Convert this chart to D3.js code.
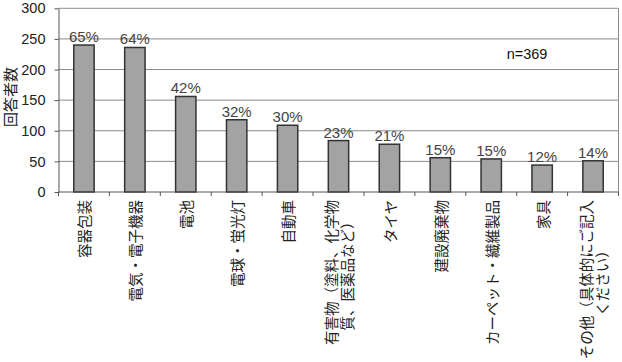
<!DOCTYPE html>
<html>
<head>
<meta charset="utf-8">
<script src="https://cdn.jsdelivr.net/npm/d3@7"></script>
<style>
  html, body { margin: 0; padding: 0; background: #fff; }
  svg { display: block; }
</style>
</head>
<body>
<svg id="chart" width="622" height="362"></svg>
<script>
const categories = [
  ["容器包装"],
  ["電気・電子機器"],
  ["電池"],
  ["電球・蛍光灯"],
  ["自動車"],
  ["有害物（塗料、化学物", "質、医薬品など）"],
  ["タイヤ"],
  ["建設廃棄物"],
  ["カーペット・繊維製品"],
  ["家具"],
  ["その他（具体的にご記入", "ください）"]
];
const values = [240, 236, 156, 118, 109, 84, 78, 56, 54, 44, 51];
const percentLabels = ["65%", "64%", "42%", "32%", "30%", "23%", "21%", "15%", "15%", "12%", "14%"];
const yTicks = [0, 50, 100, 150, 200, 250, 300];
const yTitle = "回答者数";
const note = "n=369";

const svg = d3.select("#chart");
const plotLeft = 58.5, plotRight = 618.5, plotTop = 8.3, plotBottom = 192;
const ids = categories.map((d, i) => i);

const x = d3.scaleBand().domain(ids).range([plotLeft, plotRight]).paddingInner(0.6).paddingOuter(0.3);
const y = d3.scaleLinear().domain([0, 300]).range([plotBottom, plotTop]);
const step = x.step();
const gapHalf = (step - x.bandwidth()) / 2;

// gridlines
svg.append("g").selectAll("line").data(yTicks.filter(t => t > 0)).join("line")
  .attr("x1", plotLeft).attr("x2", plotRight)
  .attr("y1", d => y(d)).attr("y2", d => y(d))
  .attr("stroke", "#8c8c8c").attr("stroke-width", 1);
// right border
svg.append("line").attr("x1", plotRight).attr("x2", plotRight).attr("y1", y(300)).attr("y2", y(0))
  .attr("stroke", "#8c8c8c").attr("stroke-width", 1);

// bars
svg.append("g").selectAll("rect").data(values).join("rect")
  .attr("x", (d, i) => x(i))
  .attr("y", d => y(d))
  .attr("width", x.bandwidth())
  .attr("height", d => y(0) - y(d))
  .attr("fill", "#a3a3a3")
  .attr("stroke", "#333")
  .attr("stroke-width", 1.5);

// y axis
const yAxis = d3.axisLeft(y).tickValues(yTicks).tickSize(4).tickSizeOuter(0).tickPadding(9);
const gy = svg.append("g").attr("transform", `translate(${plotLeft},0)`).call(yAxis);
gy.select(".domain").attr("stroke", "#555");
gy.selectAll(".tick line").attr("stroke", "#555");
gy.selectAll(".tick text").attr("font-family", "Liberation Sans, Arial, sans-serif")
  .attr("font-size", "14.5px").attr("fill", "#222");

// x axis line and boundary ticks
svg.append("line").attr("x1", plotLeft).attr("x2", plotRight).attr("y1", y(0)).attr("y2", y(0))
  .attr("stroke", "#555").attr("stroke-width", 1);
const boundaries = ids.map(i => x(i) - gapHalf).concat([x(ids.length - 1) + x.bandwidth() + gapHalf]);
svg.append("g").selectAll("line").data(boundaries).join("line")
  .attr("x1", d => d).attr("x2", d => d)
  .attr("y1", y(0)).attr("y2", y(0) + 4)
  .attr("stroke", "#555");

// percent labels
svg.append("g").selectAll("text").data(values).join("text")
  .attr("x", (d, i) => x(i) + x.bandwidth() / 2)
  .attr("y", d => y(d) - 3)
  .attr("text-anchor", "middle")
  .attr("font-family", "Liberation Sans, Arial, sans-serif")
  .attr("font-size", "15px")
  .attr("fill", "#444")
  .text((d, i) => percentLabels[i]);

// category labels (rotated)
const fs = 14.5, lineH = 16, labelTop = 200;
categories.forEach((lines, i) => {
  const cx = x(i) + x.bandwidth() / 2;
  const g = svg.append("g").attr("transform", `translate(${cx},${labelTop}) rotate(-90)`);
  const texts = lines.map((ln, j) => g.append("text")
    .attr("y", (j - (lines.length - 1) / 2) * lineH)
    .attr("dominant-baseline", "central")
    .attr("text-anchor", "middle")
    .attr("font-family", "Noto Sans CJK JP, sans-serif")
    .attr("font-size", fs + "px")
    .attr("fill", "#222")
    .text(ln));
  const maxLen = d3.max(texts, t => t.node().getComputedTextLength());
  texts.forEach(t => t.attr("x", -maxLen / 2));
});

// y title
svg.append("text")
  .attr("transform", `translate(9.5,97) rotate(-90)`)
  .attr("text-anchor", "middle")
  .attr("dominant-baseline", "central")
  .attr("font-family", "Noto Sans CJK JP, sans-serif")
  .attr("font-size", "15px")
  .attr("fill", "#222")
  .text(yTitle);

// note
svg.append("text")
  .attr("x", 527).attr("y", 59)
  .attr("text-anchor", "middle")
  .attr("font-family", "Liberation Sans, Arial, sans-serif")
  .attr("font-size", "14.5px")
  .attr("fill", "#111")
  .text(note);
</script>
</body>
</html>
